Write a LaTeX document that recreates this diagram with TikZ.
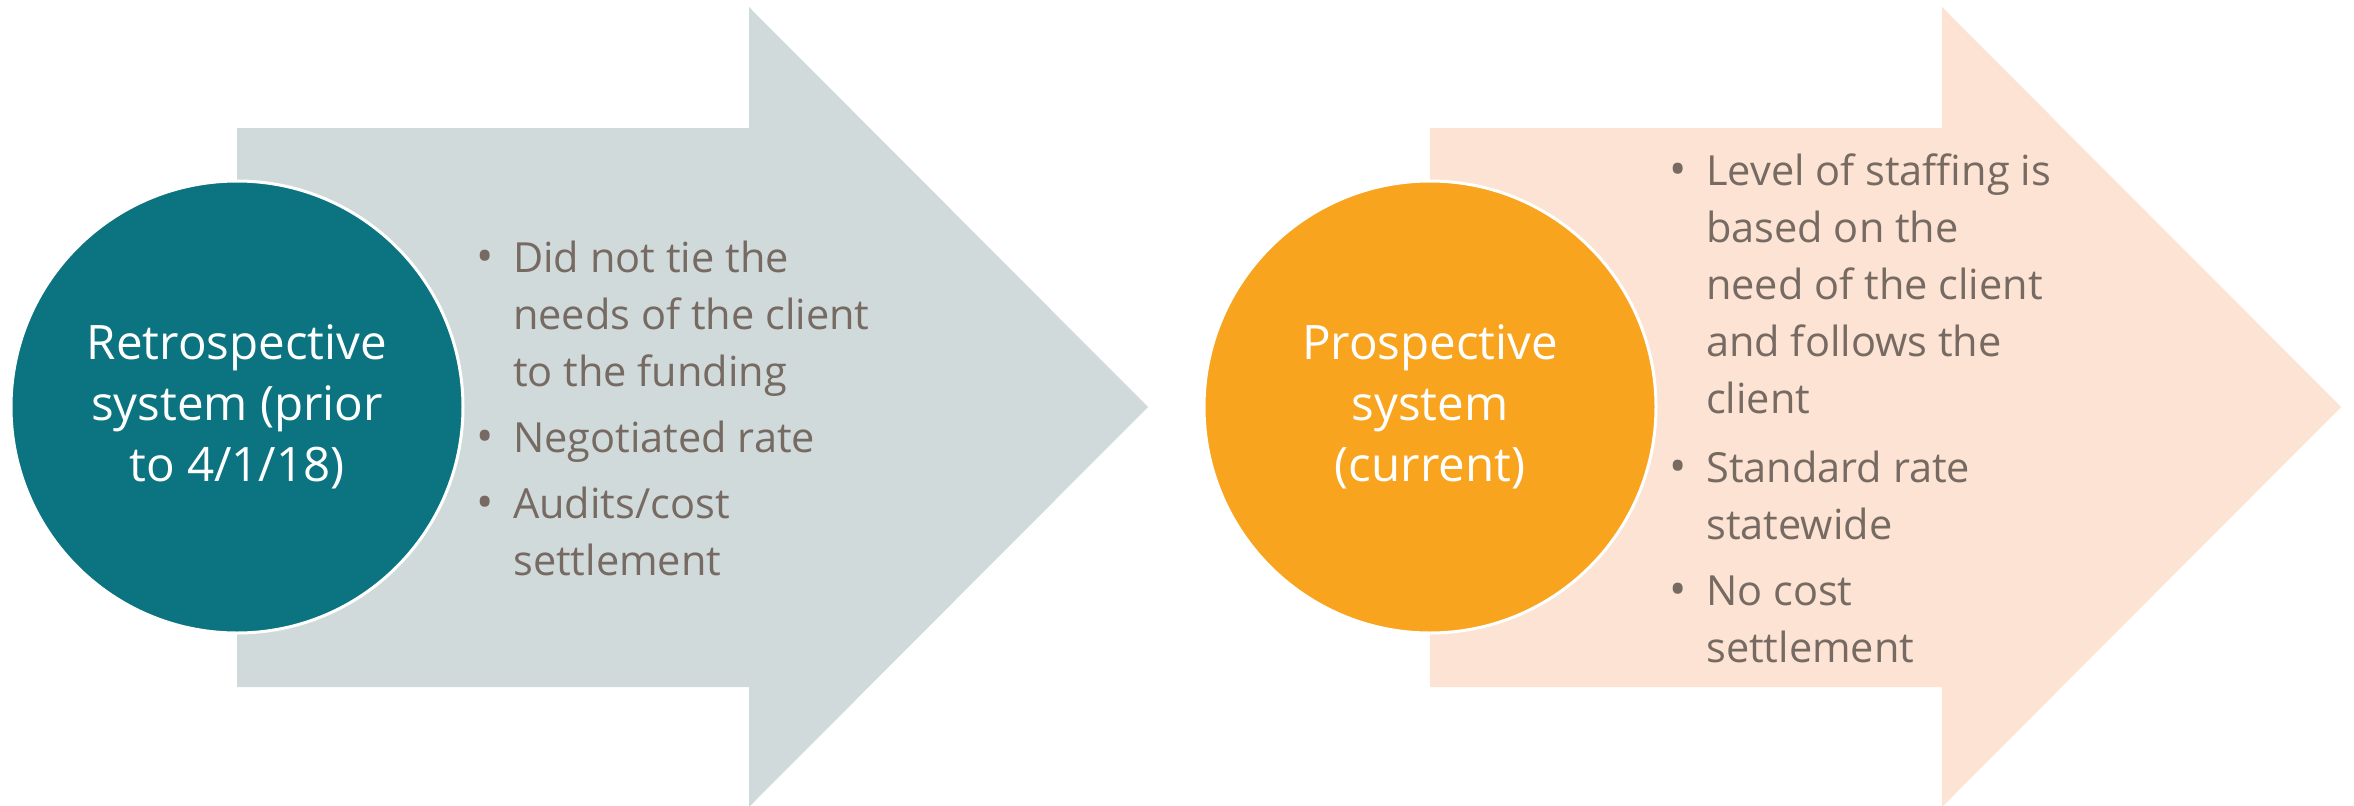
\documentclass[tikz,border=0pt]{standalone}
\usepackage{fontspec}
\setmainfont{Open Sans}
\definecolor{tealc}{HTML}{0B7480}
\definecolor{grayarrow}{HTML}{D0DADB}
\definecolor{orangec}{HTML}{F8A41E}
\definecolor{peach}{HTML}{FCE3D3}
\definecolor{txtgray}{HTML}{766A62}
\begin{document}
\begin{tikzpicture}[x=1pt,y=-1pt,
  circ/.style={circle, draw=white, line width=3pt, minimum size=452pt, inner sep=0pt,
    text=white, align=center, font=\fontsize{47.5}{61}\selectfont},
  bulletmark/.style={anchor=base, inner sep=0pt, text=txtgray, font=\fontsize{46}{57}\selectfont},
  itemtext/.style={anchor=base west, inner sep=0pt, align=left, text=txtgray,
    font=\fontsize{41.5}{57}\selectfont}]
\useasboundingbox (0,0) rectangle (2354,806);
% left arrow
\fill[grayarrow] (237,128) -- (749,128) -- (749,7) -- (1148,407) -- (749,807) -- (749,687) -- (237,687) -- cycle;
% right arrow
\fill[peach] (1430,128) -- (1942,128) -- (1942,7) -- (2341,407) -- (1942,807) -- (1942,687) -- (1430,687) -- cycle;
% circles
\node[circ, fill=tealc] (retro) at (237,407) {Retrospective\\system (prior\\to 4/1/18)};
\node[circ, fill=orangec] (prosp) at (1430,407) {Prospective\\system\\(current)};
% left bullets (base anchor = baseline of last line)
\node[bulletmark] (lb1) at (485,272) {\textbullet};
\node[itemtext] (lt1) at (513,386) {Did not tie the\\needs of the client\\to the funding};
\node[bulletmark] (lb2) at (485,452) {\textbullet};
\node[itemtext] (lt2) at (513,452) {Negotiated rate};
\node[bulletmark] (lb3) at (485,518) {\textbullet};
\node[itemtext] (lt3) at (513,575) {Audits/cost\\settlement};
% right bullets
\node[bulletmark] (rb1) at (1678,185) {\textbullet};
\node[itemtext] (rt1) at (1706,413) {Level of staffing is\\based on the\\need of the client\\and follows the\\client};
\node[bulletmark] (rb2) at (1678,482) {\textbullet};
\node[itemtext] (rt2) at (1706,539) {Standard rate\\statewide};
\node[bulletmark] (rb3) at (1678,605) {\textbullet};
\node[itemtext] (rt3) at (1706,662) {No cost\\settlement};
\end{tikzpicture}
\end{document}
